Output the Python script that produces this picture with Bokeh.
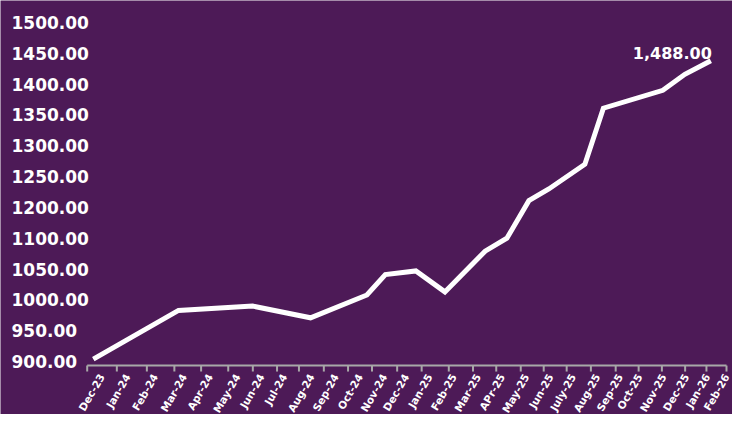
import math
from bokeh.plotting import figure
from bokeh.models import Range1d, ColumnDataSource
from bokeh.core.properties import value
from bokeh.embed import file_html
from bokeh.resources import INLINE

# ---- data ----
month_labels = ["Dec-23", "Jan-24", "Feb-24", "Mar-24", "Apr-24", "May-24", "Jun-24",
                "Jul-24", "Aug-24", "Sep-24", "Oct-24", "Nov-24", "Dec-24", "Jan-25",
                "Feb-25", "Mar-25", "APr-25", "May-25", "Jun-25", "July-25", "Aug-25",
                "Sep-25", "Oct-25", "Nov-25", "Dec-25", "Jan-26", "Feb-26"]
# position of each tick mark along the (irregular) time axis
tick_pos = [0, 30.6, 61.6, 90, 117.6, 145.6, 171, 196, 218.6, 244.3, 269.3, 294, 320,
            345.3, 373.3, 398.3, 422.3, 447.6, 471.3, 495, 520, 545.6, 569.3, 593.3,
            617.3, 639.3, 660]
# position of the end of each month label along the same axis
label_pos = [15, 41.6, 70, 100, 126.6, 155, 180, 203.3, 231.6, 256.6, 281.6, 306.6,
             329.3, 353.3, 378.3, 403.3, 428.3, 453.3, 478.3, 501.6, 526.6, 550,
             570, 595, 618.3, 640, 660]

# line series (position along time axis, value on the axis scale)
series_x = [6.3, 94.3, 170.8, 230.6, 288.8, 307.8, 339.3, 369.3, 410.8, 433.3, 456,
            476.6, 513.8, 532.9, 594.3, 617, 643.8]
series_y = [904, 983, 990, 971, 1008, 1041, 1047, 1013, 1079, 1100, 1161, 1180, 1220,
            1311, 1340, 1366, 1388]

# y-axis ticks and the labels printed on them
y_tick_values = [900, 950, 1000, 1050, 1100, 1150, 1200, 1250, 1300, 1350, 1400, 1450]
y_tick_labels = ["900.00", "950.00", "1000.00", "1050.00", "1100.00", "1200.00",
                 "1250.00", "1300.00", "1350.00", "1400.00", "1450.00", "1500.00"]

last_label = "1,488.00"

# ---- styling ----
BG = "#4D1A57"
AXIS = "#A8A8A8"
FONT = "DejaVu Sans"
W, H = 732, 414
X_START, X_END = -89.5, 666.2
Y_START, Y_END = 814.1, 1485.7
AXIS_Y = 893.5
TICK_LEN = 6 * (Y_END - Y_START) / H  # 6 px expressed in value units

p = figure(width=W, height=H, output_backend="svg", toolbar_location=None,
           x_range=Range1d(X_START, X_END), y_range=Range1d(Y_START, Y_END),
           x_axis_location=None, y_axis_location=None,
           min_border_left=0, min_border_right=0, min_border_top=0,
           min_border_bottom=0)

p.background_fill_color = BG
p.border_fill_color = BG
p.outline_line_color = None
p.grid.grid_line_color = None

# month labels, rotated
xl = ColumnDataSource(dict(x=label_pos, y=[AXIS_Y] * len(label_pos), t=month_labels))
p.text(x="x", y="y", text="t", source=xl, angle=math.radians(60),
       text_align="right", text_baseline="middle", x_offset=0, y_offset=9,
       text_color="white", text_font=value(FONT), text_font_style="bold",
       text_font_size="10.5px")

# value labels on the left, left aligned
yl = ColumnDataSource(dict(x=[X_START] * len(y_tick_values), y=y_tick_values,
                           t=y_tick_labels))
p.text(x="x", y="y", text="t", source=yl, text_align="left", text_baseline="middle",
       x_offset=11, text_color="white", text_font=value(FONT),
       text_font_style="bold", text_font_size="17px")

# category axis line and tick marks
p.line(x=[tick_pos[0], tick_pos[-1]], y=[AXIS_Y, AXIS_Y], line_color=AXIS,
       line_width=2)
p.multi_line(xs=[[t, t] for t in tick_pos],
             ys=[[AXIS_Y, AXIS_Y - TICK_LEN] for _ in tick_pos],
             line_color=AXIS, line_width=2)

# the series
p.line(series_x, series_y, line_color="white", line_width=5, line_join="miter")

p.text(x=[series_x[-1]], y=[series_y[-1]], text=[last_label],
       text_align="right", text_baseline="alphabetic", x_offset=1, y_offset=-8,
       text_color="white", text_font=value(FONT), text_font_style="bold",
       text_font_size="16px")

open("out.html", "w").write(file_html(p, INLINE))
